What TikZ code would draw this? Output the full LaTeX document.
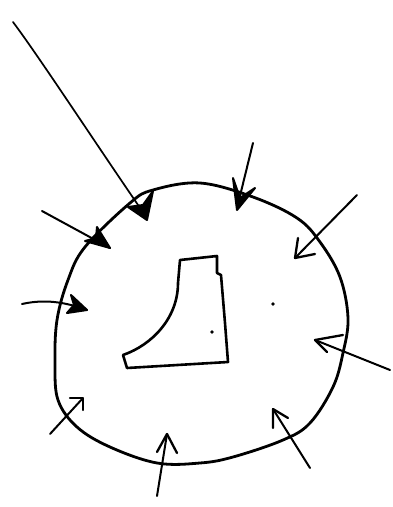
\documentclass[tikz,border=0pt]{standalone}
\begin{document}
\begin{tikzpicture}[x=1pt,y=-1pt,line cap=round,line join=round,
  ink/.style={draw=black,line width=2pt},
  rim/.style={draw=black,line width=2.8pt},
  vhead/.style={draw=black,line width=2.3pt},
  fhead/.style={draw=black,fill=black,line width=2pt}]
\useasboundingbox (0,0) rectangle (393,507);
% outer blob
\draw[rim] plot[smooth cycle,tension=0.6] coordinates{
 (200,183) (253,197) (297,218) (320,242) (340,277) (348,318)
 (343,353) (333,387) (310,423) (283,440) (233,457) (200,463)
 (157,463) (110,447) (77,427) (58,400) (55,363) (57,320)
 (68,280) (85,247) (130,203) (153,190)};
% inner shape
\draw[rim,line width=2.6pt] (180,260) -- (217,256) -- (217,273) -- (221,275)
  -- (225,323) -- (228,362) -- (127,368) -- (123,355)
  .. controls (152,345) and (178,318) .. (178,283) -- cycle;
% dots
\fill (212,332) circle (1.8pt);
\fill (273,304) circle (1.8pt);
% long arrow
\draw[ink,line width=1.7pt] (13,22) .. controls (40,58) and (100,150) .. (147,218);
\draw[fhead] (128,207) -- (147,220) -- (153,191) -- (143,205) -- cycle;
% top arrow
\draw[ink] (253,143) -- (237,208);
\draw[fhead] (233,178) -- (237,210) -- (255,188) -- (240,198) -- cycle;
% upper-right arrow
\draw[ink] (357,195) -- (295,258);
\draw[vhead] (298,238) -- (295,258) -- (315,254);
% right arrow
\draw[ink] (390,370) -- (315,340);
\draw[vhead] (327,352) -- (315,340) -- (343,335);
% bottom-right arrow
\draw[ink] (310,468) -- (273,409);
\draw[vhead] (273,428) -- (273,409) -- (288,418);
% bottom arrow
\draw[ink] (157,496) -- (167,434);
\draw[vhead] (157,452) -- (167,434) -- (177,453);
% lower-left arrow
\draw[ink] (50,434) -- (83,398);
\draw[vhead] (70,398) -- (83,398) -- (83,410);
% left arrow
\draw[ink] (22,304) .. controls (40,300) and (60,300) .. (87,310);
\draw[fhead] (71,295) -- (87,310) -- (67,313) -- (74,305) -- cycle;
% upper-left arrow
\draw[ink] (42,211) -- (110,248);
\draw[fhead] (97,227) -- (110,248) -- (85,241) -- (96,238) -- cycle;
\end{tikzpicture}
\end{document}
